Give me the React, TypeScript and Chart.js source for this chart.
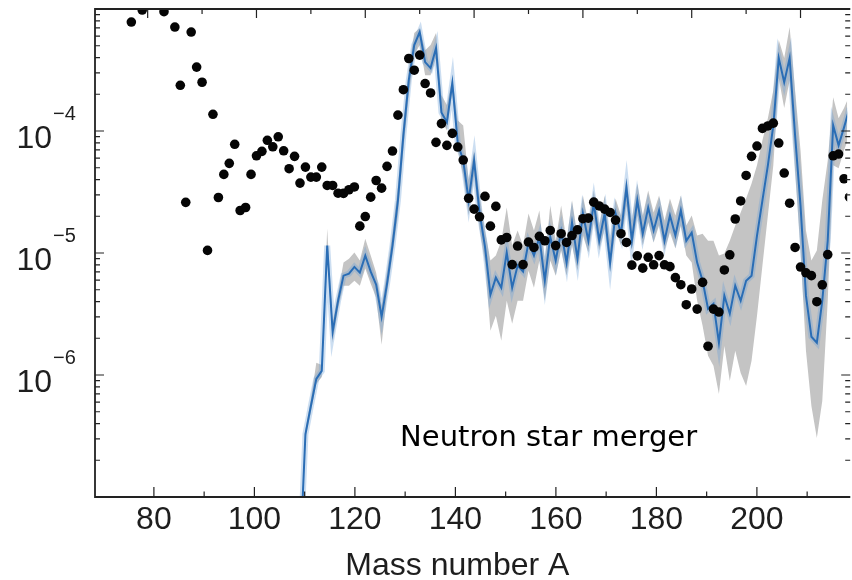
import React, { useEffect, useRef } from "react";
import { Chart, registerables } from "chart.js";

Chart.register(...registerables);

// Solar r-process residual abundances (black dots), by mass number
const dotMass = [
  77, 79, 83, 85, 86, 87, 88, 89, 90, 91, 92, 93, 94, 95, 96, 97, 98, 99, 100,
  101, 102, 103, 104, 105, 106, 107, 108, 109, 110, 111, 112, 113, 114, 115, 116,
  117, 118, 119, 120, 121, 122, 123, 124, 125, 126, 127, 128, 129, 130, 131, 132,
  133, 134, 135, 136, 137, 138, 139, 140, 141, 142, 143, 144, 145, 146, 147, 148,
  149, 150, 151, 152, 153, 154, 155, 156, 157, 158, 159, 160, 161, 162, 163, 164,
  165, 166, 167, 168, 169, 170, 171, 172, 173, 174, 175, 176, 177, 178, 179, 180,
  181, 182, 183, 184, 185, 186, 187, 188, 189, 190, 191, 192, 193, 194, 195, 196,
  197, 198, 199, 200, 201, 202, 203, 204, 205, 206, 207, 208, 209,
];
const dotAbundance = [
  7.82e-4, 9.81e-4, 9.5e-4, 7.11e-4, 2.37e-4, 2.6e-5, 6.47e-4, 3.34e-4, 2.51e-4, 1.05e-5,
  1.37e-4, 2.85e-5, 4.41e-5, 5.43e-5, 7.78e-5, 2.23e-5, 2.36e-5, 4.41e-5, 6.26e-5,
  6.81e-5, 8.39e-5, 7.42e-5, 8.96e-5, 6.88e-5, 4.91e-5, 6.2e-5, 3.74e-5, 5.06e-5, 4.19e-5,
  4.19e-5, 5.06e-5, 3.58e-5, 3.58e-5, 3.09e-5, 3.08e-5, 3.3e-5, 3.48e-5, 1.66e-5, 1.99e-5,
  2.87e-5, 3.93e-5, 3.4e-5, 5.13e-5, 6.85e-5, 1.35e-4, 2.18e-4, 3.93e-4, 3.15e-4, 4.19e-4,
  2.45e-4, 2.05e-4, 8.07e-5, 1.15e-4, 7.63e-5, 9.57e-5, 7.39e-5, 5.78e-5, 2.81e-5, 2.29e-5,
  1.98e-5, 2.91e-5, 1.66e-5, 2.41e-5, 1.28e-5, 1.34e-5, 8.03e-6, 1.14e-5, 8.03e-6, 1.23e-5,
  1.11e-5, 1.37e-5, 1.26e-5, 1.53e-5, 1.15e-5, 1.44e-5, 1.22e-5, 1.39e-5, 1.55e-5, 1.91e-5,
  1.93e-5, 2.61e-5, 2.43e-5, 2.29e-5, 2.15e-5, 1.86e-5, 1.44e-5, 1.22e-5, 7.96e-6, 9.48e-6,
  7.51e-6, 9.22e-6, 8.0e-6, 9.52e-6, 8.0e-6, 7.73e-6, 6.28e-6, 5.5e-6, 3.77e-6, 5.07e-6,
  3.47e-6, 5.74e-6, 1.72e-6, 3.47e-6, 3.28e-6, 7.26e-6, 9.66e-6, 1.9e-5, 2.67e-5, 4.32e-5,
  6.2e-5, 7.53e-5, 1.05e-4, 1.1e-4, 1.16e-4, 7.97e-5, 4.52e-5, 2.56e-5, 1.11e-5, 7.67e-6,
  6.88e-6, 6.52e-6, 3.99e-6, 5.48e-6, 9.7e-6, 6.26e-5, 6.47e-5, 4.06e-5, 2.87e-5,
];

// Neutron star merger model (blue line) with its uncertainty band (gray)
const modelMass = [
  108, 109, 110, 111, 112, 113, 114, 115, 116, 117, 118, 119, 120, 121, 122, 123, 124,
  125, 126, 127, 128, 129, 130, 131, 132, 133, 134, 135, 136, 137, 138, 139, 140, 141,
  142, 143, 144, 145, 146, 147, 148, 149, 150, 151, 152, 153, 154, 155, 156, 157, 158,
  159, 160, 161, 162, 163, 164, 165, 166, 167, 168, 169, 170, 171, 172, 173, 174, 175,
  176, 177, 178, 179, 180, 181, 182, 183, 184, 185, 186, 187, 188, 189, 190, 191, 192,
  193, 194, 195, 196, 197, 198, 199, 200, 201, 202, 203, 204, 205, 206, 207, 208, 209,
];
const modelAbundance = [
  3.0e-8, 3.28e-7, 5.57e-7, 9.29e-7, 1.08e-6, 1.15e-5, 2.26e-6, 4.06e-6, 6.52e-6, 6.77e-6,
  7.69e-6, 6.9e-6, 9.52e-6, 7.03e-6, 5.5e-6, 3.0e-6, 5.6e-6, 1.15e-5, 2.7e-5, 9.22e-5,
  2.61e-4, 5.06e-4, 6.47e-4, 3.67e-4, 3.28e-4, 4.78e-4, 1.42e-4, 1.18e-4, 2.47e-4, 7.92e-5,
  5.74e-5, 2.7e-5, 5.74e-5, 2.15e-5, 1.13e-5, 4.55e-6, 6.28e-6, 5.2e-6, 1.01e-5, 5.2e-6,
  7.88e-6, 7.03e-6, 1.22e-5, 9.52e-6, 1.34e-5, 5.93e-6, 1.36e-5, 8.66e-6, 1.5e-5, 8.34e-6,
  1.78e-5, 8.99e-6, 2.11e-5, 1.26e-5, 2.55e-5, 1.26e-5, 2.11e-5, 8.34e-6, 2.11e-5, 1.44e-5,
  3.45e-5, 1.26e-5, 2.7e-5, 1.44e-5, 2.36e-5, 1.53e-5, 2.23e-5, 1.26e-5, 2.03e-5, 1.39e-5,
  2.23e-5, 1.26e-5, 1.47e-5, 8.34e-6, 5.93e-6, 3.49e-6, 3.84e-6, 1.84e-6, 4.47e-6, 3.18e-6,
  5.4e-6, 4.06e-6, 5.93e-6, 6.52e-6, 1.39e-5, 2.7e-5, 5.23e-5, 1.11e-4, 3.96e-4, 2.51e-4,
  3.96e-4, 9.22e-5, 2.45e-5, 4.47e-6, 2.06e-6, 1.84e-6, 4.06e-6, 1.26e-5, 1.11e-4, 7.63e-5,
  1.07e-4, 1.54e-4,
];
const modelUpper = [
  3.5e-8, 3.61e-7, 6.36e-7, 1.26e-6, 1.21e-6, 1.59e-5, 2.68e-6, 4.73e-6, 8.34e-6, 8.99e-6,
  1.01e-5, 8.66e-6, 1.31e-5, 9.52e-6, 6.9e-6, 3.7e-6, 7.17e-6, 1.47e-5, 3.58e-5, 1.18e-4,
  3.28e-4, 6.35e-4, 6.98e-4, 4.6e-4, 5.06e-4, 6.35e-4, 1.97e-4, 1.63e-4, 2.71e-4, 1.22e-4,
  1.11e-4, 3.93e-5, 6.94e-5, 2.96e-5, 1.53e-5, 8.66e-6, 9.52e-6, 1.26e-5, 2.36e-5, 1.15e-5,
  1.53e-5, 1.15e-5, 2.11e-5, 1.53e-5, 2.23e-5, 8.66e-6, 2.45e-5, 1.26e-5, 2.45e-5, 1.26e-5,
  2.7e-5, 1.39e-5, 2.96e-5, 1.78e-5, 3.26e-5, 1.68e-5, 2.96e-5, 1.26e-5, 2.8e-5, 2.03e-5,
  4.16e-5, 1.85e-5, 3.72e-5, 2.03e-5, 3.26e-5, 2.15e-5, 2.96e-5, 1.85e-5, 2.8e-5, 2.03e-5,
  2.96e-5, 1.68e-5, 2.03e-5, 1.39e-5, 1.44e-5, 1.26e-5, 1.26e-5, 9.52e-6, 9.89e-6, 1.26e-5,
  1.68e-5, 2.15e-5, 2.8e-5, 3.72e-5, 5.23e-5, 8.39e-5, 1.27e-4, 2.16e-4, 5.56e-4, 3.96e-4,
  7.11e-4, 2.16e-4, 6.94e-5, 1.53e-5, 8.66e-6, 1.05e-5, 2.7e-5, 5.74e-5, 1.89e-4, 1.27e-4,
  1.54e-4, 1.97e-4,
];
const modelLower = [
  2.5e-8, 2.99e-7, 4.97e-7, 8.45e-7, 9.65e-7, 1.05e-5, 1.84e-6, 3.49e-6, 5.4e-6, 5.4e-6,
  5.93e-6, 5.4e-6, 7.48e-6, 5.6e-6, 4.3e-6, 1.77e-6, 4.64e-6, 9.52e-6, 2.03e-5, 6.94e-5,
  1.97e-4, 4.19e-4, 5.06e-4, 2.87e-4, 2.87e-4, 3.96e-4, 1.22e-4, 1.01e-4, 2.08e-4, 6.94e-5,
  4.32e-5, 2.03e-5, 4.32e-5, 1.59e-5, 8.34e-6, 2.3e-6, 3.06e-6, 1.91e-6, 4.06e-6, 2.63e-6,
  4.06e-6, 4.06e-6, 7.17e-6, 5.2e-6, 8.66e-6, 4.06e-6, 8.66e-6, 6.52e-6, 1.05e-5, 6.52e-6,
  1.15e-5, 7.17e-6, 1.39e-5, 1.01e-5, 1.85e-5, 1.05e-5, 1.59e-5, 6.9e-6, 1.53e-5, 1.15e-5,
  2.45e-5, 1.05e-5, 2.03e-5, 1.15e-5, 1.78e-5, 1.22e-5, 1.68e-5, 1.05e-5, 1.47e-5, 1.09e-5,
  1.68e-5, 9.52e-6, 8.34e-6, 4.06e-6, 2.53e-6, 1.44e-6, 1.19e-6, 7.0e-7, 1.73e-6, 8.94e-7,
  1.58e-6, 1.04e-6, 8.14e-7, 1.31e-6, 3.06e-6, 7.88e-6, 2.03e-5, 5.23e-5, 2.71e-4, 1.54e-4,
  2.61e-4, 4.75e-5, 1.05e-5, 1.58e-6, 5.57e-7, 3.04e-7, 6.13e-7, 4.06e-6, 5.23e-5, 4.94e-5,
  6.94e-5, 9.22e-5,
];

const xTickLabels = [80, 100, 120, 140, 160, 180, 200];
const yLabelDecades = [1e-4, 1e-5, 1e-6];
const yLabelExponents = ["\u22124", "\u22125", "\u22126"];
const axisTitle = "Mass number A";
const axisTitleMass = 140.4;
const annotationText = "Neutron star merger";
const annotationMass = 126.4;
const annotationAbundance = 2.62e-7;

const TEXT = "#1e1e1e";
const SANS = '"Liberation Sans", Arial, sans-serif';

const framePlugin = {
  id: "frameAndLabels",
  afterDatasetsDraw(chart: any) {
    const { ctx, chartArea: a, scales } = chart;
    const x = scales.x;
    const xt = scales.xTop;
    const y = scales.y;
    const rightAxis = a.right + 3;
    ctx.save();
    ctx.strokeStyle = "#222";
    ctx.lineWidth = 1.8;
    ctx.beginPath();
    ctx.moveTo(rightAxis, a.top);
    ctx.lineTo(a.left, a.top);
    ctx.lineTo(a.left, a.bottom);
    ctx.lineTo(rightAxis, a.bottom);
    ctx.stroke();

    ctx.lineWidth = 1.2;
    ctx.beginPath();
    for (let k = -7; k <= -3; k++) {
      for (let m = 1; m <= 9; m++) {
        const v = m * Math.pow(10, k);
        if (v < y.min * 0.999 || v > y.max * 1.001) continue;
        const py = y.getPixelForValue(v);
        const len = m === 1 ? 9 : 5;
        ctx.moveTo(a.left, py);
        ctx.lineTo(a.left + len, py);
        ctx.moveTo(rightAxis, py);
        ctx.lineTo(rightAxis - len, py);
      }
    }
    for (let v = 80; v <= 210; v += 10) {
      const px = x.getPixelForValue(v);
      const len = v % 20 === 0 ? 10 : 5.5;
      ctx.moveTo(px, a.bottom);
      ctx.lineTo(px, a.bottom - len);
    }
    for (let v = 80; v <= 200; v += 10) {
      const px = xt.getPixelForValue(v);
      const len = v % 20 === 0 ? 9 : 5;
      ctx.moveTo(px, a.top);
      ctx.lineTo(px, a.top + len);
    }
    ctx.stroke();
    ctx.restore();
  },
  afterDraw(chart: any) {
    const { ctx, chartArea: a, scales } = chart;
    const x = scales.x;
    const xt = scales.xTop;
    const y = scales.y;
    ctx.save();
    ctx.fillStyle = TEXT;
    yLabelDecades.forEach((v, i) => {
      const py = y.getPixelForValue(v);
      ctx.font = `32px ${SANS}`;
      ctx.textAlign = "right";
      ctx.textBaseline = "alphabetic";
      ctx.fillText("10", a.left - 43, py + 17);
      ctx.font = `20px ${SANS}`;
      ctx.textAlign = "left";
      ctx.fillText(yLabelExponents[i], a.left - 42, py - 11);
    });
    ctx.font = `32px ${SANS}`;
    ctx.textAlign = "center";
    ctx.textBaseline = "alphabetic";
    ctx.fillText(axisTitle, x.getPixelForValue(axisTitleMass), chart.height - 5);

    ctx.fillStyle = "#000";
    ctx.font = '29px "DejaVu Sans", sans-serif';
    ctx.textAlign = "left";
    ctx.fillText(
      annotationText,
      xt.getPixelForValue(annotationMass),
      y.getPixelForValue(annotationAbundance)
    );
    ctx.restore();
  },
};

export default function App() {
  const canvasRef = useRef<HTMLCanvasElement | null>(null);

  useEffect(() => {
    if (!canvasRef.current) return;
    const dots = dotMass.map((m, i) => ({ x: m, y: dotAbundance[i] }));
    const model = modelMass.map((m, i) => ({ x: m, y: modelAbundance[i] }));
    const upper = modelMass.map((m, i) => ({ x: m, y: modelUpper[i] }));
    const lower = modelMass.map((m, i) => ({ x: m, y: modelLower[i] }));

    const chart = new Chart(canvasRef.current, {
      type: "scatter",
      data: {
        datasets: [
          {
            label: "Solar r-process",
            data: dots,
            xAxisID: "xTop",
            yAxisID: "y",
            backgroundColor: "#050505",
            borderWidth: 0,
            pointRadius: 4.8,
            pointHoverRadius: 4.8,
          },
          {
            type: "line",
            label: "Model",
            data: model,
            xAxisID: "xTop",
            yAxisID: "y",
            borderColor: "#2a6db5",
            borderWidth: 2,
            pointRadius: 0,
            tension: 0,
            fill: false,
          },
          {
            type: "line",
            label: "Model halo",
            data: model,
            xAxisID: "xTop",
            yAxisID: "y",
            borderColor: "rgba(110,160,215,0.35)",
            borderWidth: 6,
            pointRadius: 0,
            tension: 0,
            fill: false,
          },
          {
            type: "line",
            label: "Upper",
            data: upper,
            xAxisID: "xTop",
            yAxisID: "y",
            borderWidth: 0,
            borderColor: "rgba(0,0,0,0)",
            backgroundColor: "#c4c4c4",
            pointRadius: 0,
            tension: 0,
            fill: "+1",
          },
          {
            type: "line",
            label: "Lower",
            data: lower,
            xAxisID: "xTop",
            yAxisID: "y",
            borderWidth: 0,
            borderColor: "rgba(0,0,0,0)",
            pointRadius: 0,
            tension: 0,
            fill: false,
          },
        ],
      } as any,
      options: {
        responsive: false,
        animation: false,
        events: [],
        layout: { padding: { top: 9, left: 0, right: 0, bottom: 0 } },
        plugins: {
          legend: { display: false },
          tooltip: { enabled: false },
        },
        scales: {
          x: {
            type: "linear",
            position: "bottom",
            min: 68.28,
            max: 217.97,
            afterBuildTicks: (s: any) => {
              s.ticks = xTickLabels.map((v) => ({ value: v }));
            },
            afterFit: (s: any) => {
              s.height = 83;
            },
            grid: { display: false, drawTicks: false },
            border: { display: false },
            ticks: {
              color: TEXT,
              font: { family: SANS, size: 32 },
              padding: 4,
              maxRotation: 0,
              autoSkip: false,
            },
          },
          xTop: {
            type: "linear",
            position: "top",
            min: 70.32,
            max: 208.58,
            display: false,
          },
          y: {
            type: "logarithmic",
            position: "left",
            min: 1e-7,
            max: 1e-3,
            afterFit: (s: any) => {
              s.width = 95;
            },
            grid: { display: false, drawTicks: false },
            border: { display: false },
            ticks: { display: false },
          },
        },
      } as any,
      plugins: [framePlugin],
    });
    return () => chart.destroy();
  }, []);

  return (
    <div style={{ position: "fixed", left: 0, top: 0, width: 852, height: 580, background: "#fff" }}>
      <canvas ref={canvasRef} width={852} height={580} style={{ display: "block" }} />
    </div>
  );
}
